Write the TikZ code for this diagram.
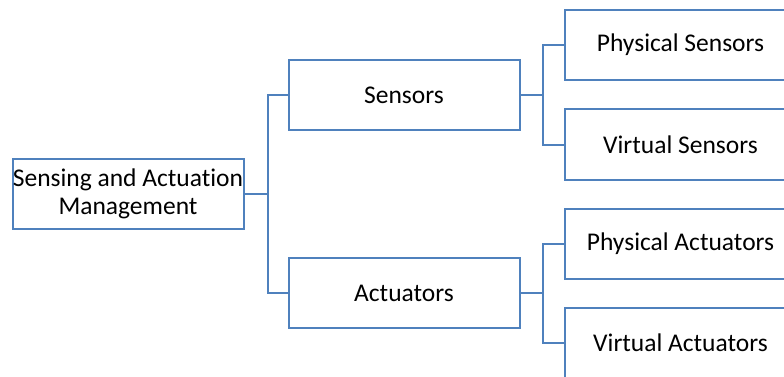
\documentclass[tikz,border=0pt]{standalone}
\usepackage{fontspec}
\setmainfont[Ligatures=NoCommon]{Carlito}
\definecolor{boxblue}{RGB}{79,129,189}
\begin{document}
\begin{tikzpicture}[
            x=1pt, y=-1pt,
            every node/.style={draw=boxblue, line width=2pt, fill=white,
                minimum width=231pt, minimum height=70pt, align=center,
                inner sep=0pt, font=\fontsize{25.5}{28}\selectfont},
            branch/.style={draw=boxblue, line width=2pt}
            ]
            \useasboundingbox (0,0) rectangle (784,377);

            \node (root) at (128,194) {Sensing and Actuation\\Management};

            \node (sensors) at (404,95) {Sensors};
            \node (actuators) at (404,293) {Actuators};

            \node (physsensors) at (680.5,45) {Physical Sensors};
            \node (virtsensors) at (680.5,144.5) {Virtual Sensors};
            \node (physactuators) at (680.5,243.5) {Physical Actuators};
            \node (virtactuators) at (680.5,342.5) {Virtual Actuators};

            \foreach \x in {sensors,actuators}{
                \draw[branch] (root.east) -- ++(23,0) |- (\x.west);
            }

            \foreach \p/\c in {sensors/physsensors, sensors/virtsensors,
                actuators/physactuators, actuators/virtactuators}{
                \draw[branch] (\p.east) -- ++(22.5,0) |- (\c.west);
            }
        \end{tikzpicture}
\end{document}
